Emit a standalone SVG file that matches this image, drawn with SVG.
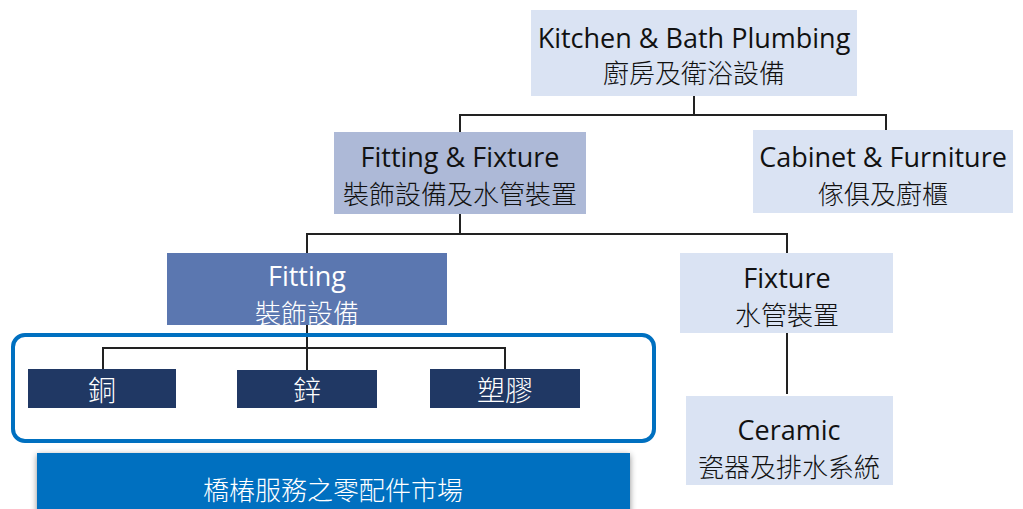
<svg xmlns="http://www.w3.org/2000/svg" width="1023" height="509" viewBox="0 0 1023 509">
<defs>
<style>
.t{font-family:"Open Sans","Noto Sans CJK TC",sans-serif;font-size:27px;text-anchor:middle;fill:#111}
.c{font-family:"Noto Sans CJK TC","Noto Sans CJK SC",sans-serif;font-size:26px;font-weight:300;text-anchor:middle;fill:#111}
.w{fill:#fff}
.light{fill:#dae3f3}
.mid{fill:#adb9d7}
.dark{fill:#5b77b0}
.navy{fill:#203864}
.ln{fill:none;stroke:#222;stroke-width:2}
</style>
<filter id="sh" x="-5%" y="-20%" width="110%" height="150%">
<feDropShadow dx="0" dy="2" stdDeviation="3" flood-color="#000" flood-opacity="0.45"/>
</filter>
</defs>
<rect width="1023" height="509" fill="#fff"/>
<g id="connectors">
<polyline class="ln" points="694,96 694,115"/>
<polyline class="ln" points="460,132 460,115 886,115 886,130"/>
<polyline class="ln" points="460,214 460,234"/>
<polyline class="ln" points="307,253 307,234 787,234 787,253"/>
<polyline class="ln" points="787,333 787,394"/>
<polyline class="ln" points="307,325 307,370"/>
<polyline class="ln" points="103,370 103,348 505,348 505,370"/>
</g>
<g id="container">
<rect x="13" y="335" width="641" height="106" rx="12" fill="none" stroke="#0070c0" stroke-width="4"/>
</g>
<g id="n-kitchen">
<rect class="light" x="531" y="10" width="326" height="86"/>
<text class="t" x="694" y="48">Kitchen &amp; Bath Plumbing</text>
<text class="c" x="694" y="83">廚房及衛浴設備</text>
</g>
<g id="n-fitfix">
<rect class="mid" x="334" y="132" width="252" height="82"/>
<text class="t" x="460" y="167">Fitting &amp; Fixture</text>
<text class="c" x="460" y="204">裝飾設備及水管裝置</text>
</g>
<g id="n-cabinet">
<rect class="light" x="753" y="130" width="260" height="83"/>
<text class="t" x="883" y="167">Cabinet &amp; Furniture</text>
<text class="c" x="883" y="204">傢俱及廚櫃</text>
</g>
<g id="n-fitting">
<rect class="dark" x="167" y="253" width="280" height="72"/>
<text class="t w" x="307" y="286">Fitting</text>
<text class="c w" x="307" y="323">裝飾設備</text>
</g>
<g id="n-fixture">
<rect class="light" x="680" y="253" width="213" height="80"/>
<text class="t" x="787" y="288">Fixture</text>
<text class="c" x="787" y="325">水管裝置</text>
</g>
<g id="n-ceramic">
<rect class="light" x="686" y="396" width="207" height="89"/>
<text class="t" x="789" y="440">Ceramic</text>
<text class="c" x="789" y="477">瓷器及排水系統</text>
</g>
<g id="n-copper">
<rect class="navy" x="28" y="369" width="148" height="39"/>
<text class="c w" x="102" y="401" style="font-size:28px">銅</text>
</g>
<g id="n-zinc">
<rect class="navy" x="237" y="370" width="140" height="38"/>
<text class="c w" x="307" y="401" style="font-size:28px">鋅</text>
</g>
<g id="n-plastic">
<rect class="navy" x="430" y="369" width="150" height="39"/>
<text class="c w" x="505" y="401" style="font-size:28px">塑膠</text>
</g>
<g id="n-market">
<rect x="37" y="453" width="593" height="62" fill="#0070c0" filter="url(#sh)"/>
<text class="c w" x="333" y="500" style="font-size:26px">橋椿服務之零配件市場</text>
</g>
</svg>
